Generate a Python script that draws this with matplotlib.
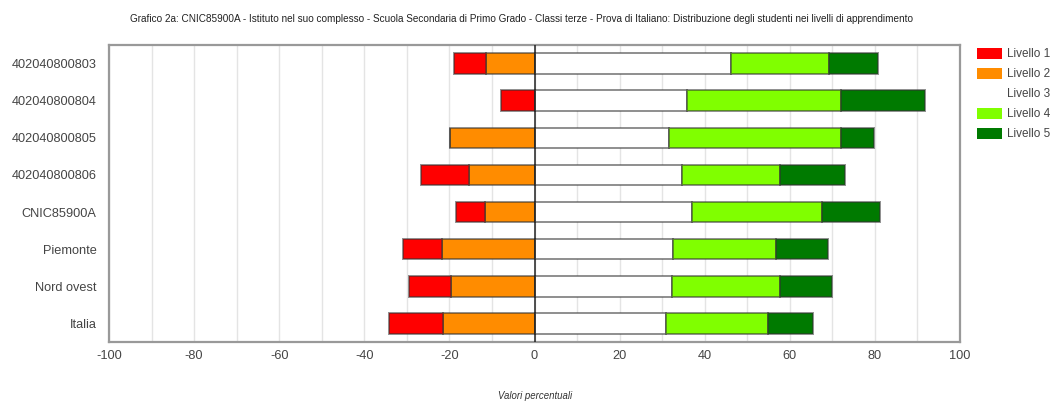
import matplotlib
matplotlib.use("Agg")
import matplotlib.pyplot as plt
from matplotlib.patches import Patch
import numpy as np

categories = ["402040800803", "402040800804", "402040800805", "402040800806",
              "CNIC85900A", "Piemonte", "Nord ovest", "Italia"]
livello1 = [7.6, 7.9, 0.0, 11.4, 6.7, 9.3, 9.8, 12.8]
livello2 = [11.4, 0.0, 19.9, 15.3, 11.7, 21.7, 19.7, 21.5]
livello3 = [46.1, 35.8, 31.7, 34.6, 37.0, 32.6, 32.3, 31.0]
livello4 = [23.1, 36.3, 40.4, 23.2, 30.6, 24.2, 25.4, 23.8]
livello5 = [11.6, 19.7, 7.6, 15.2, 13.7, 12.2, 12.3, 10.7]
series_names = ["Livello 1", "Livello 2", "Livello 3", "Livello 4", "Livello 5"]
colors = ["#ff0000", "#ff8c00", "#ffffff", "#80ff00", "#007a00"]
xticks = [-100, -80, -60, -40, -20, 0, 20, 40, 60, 80, 100]
title = ("Grafico 2a: CNIC85900A - Istituto nel suo complesso - Scuola Secondaria di Primo Grado - "
         "Classi terze - Prova di Italiano: Distribuzione degli studenti nei livelli di apprendimento")
xlabel = "Valori percentuali"

plt.rcParams['font.family'] = ['Liberation Sans', 'DejaVu Sans']

fig = plt.figure(figsize=(10.51, 4.01), dpi=100)
ax = fig.add_axes([109/1051, 1-342/401, (960-109)/1051, (342-45)/401])

y = np.arange(len(categories))
l1 = np.array(livello1); l2 = np.array(livello2); l3 = np.array(livello3)
l4 = np.array(livello4); l5 = np.array(livello5)
h = 0.55
ec = (0.2, 0.2, 0.2, 0.55)
lw = 1.4
ax.barh(y, -l2, left=0, height=h, color=colors[1], edgecolor=ec, linewidth=lw, zorder=3)
ax.barh(y, -l1, left=-l2, height=h, color=colors[0], edgecolor=ec, linewidth=lw, zorder=3)
ax.barh(y, l3, left=0, height=h, color=colors[2], edgecolor=ec, linewidth=lw, zorder=3)
ax.barh(y, l4, left=l3, height=h, color=colors[3], edgecolor=ec, linewidth=lw, zorder=3)
ax.barh(y, l5, left=l3 + l4, height=h, color=colors[4], edgecolor=ec, linewidth=lw, zorder=3)

ax.set_xlim(-100, 100)
ax.set_ylim(len(categories) - 0.5, -0.5)
ax.set_yticks(y)
ax.set_yticklabels(categories)
ax.set_xticks(xticks)
ax.set_xticklabels([str(t) for t in xticks])
ax.set_xticks(np.arange(-90, 100, 20), minor=True)
ax.grid(axis='x', which='both', color='#e4e4e4', linewidth=1, zorder=0)
ax.axvline(0, color='#222222', linewidth=1.1, zorder=4)
ax.tick_params(axis='both', which='both', length=0, labelsize=9.2, colors='#444444')
ax.tick_params(axis='x', pad=6)
ax.tick_params(axis='y', pad=9)
for s in ax.spines.values():
    s.set_color('#999999')
    s.set_linewidth(1.6)

fig.text(521/1051, 1-19/401, title, ha='center', va='center', fontsize=7.2, color='#222222')
fig.text(535/1051, 1-396/401, xlabel, ha='center', va='center', fontsize=6.9,
         style='italic', color='#333333')

handles = [Patch(facecolor=c, edgecolor='none') for c in colors]
fig.legend(handles, series_names, loc='upper left', bbox_to_anchor=(972/1051, 1-43/401),
           frameon=False, fontsize=8.5, handlelength=2.15, handleheight=1.1,
           handletextpad=0.4, labelspacing=0.62, labelcolor='#444444', borderaxespad=0)

fig.savefig("out.png", dpi=100)
